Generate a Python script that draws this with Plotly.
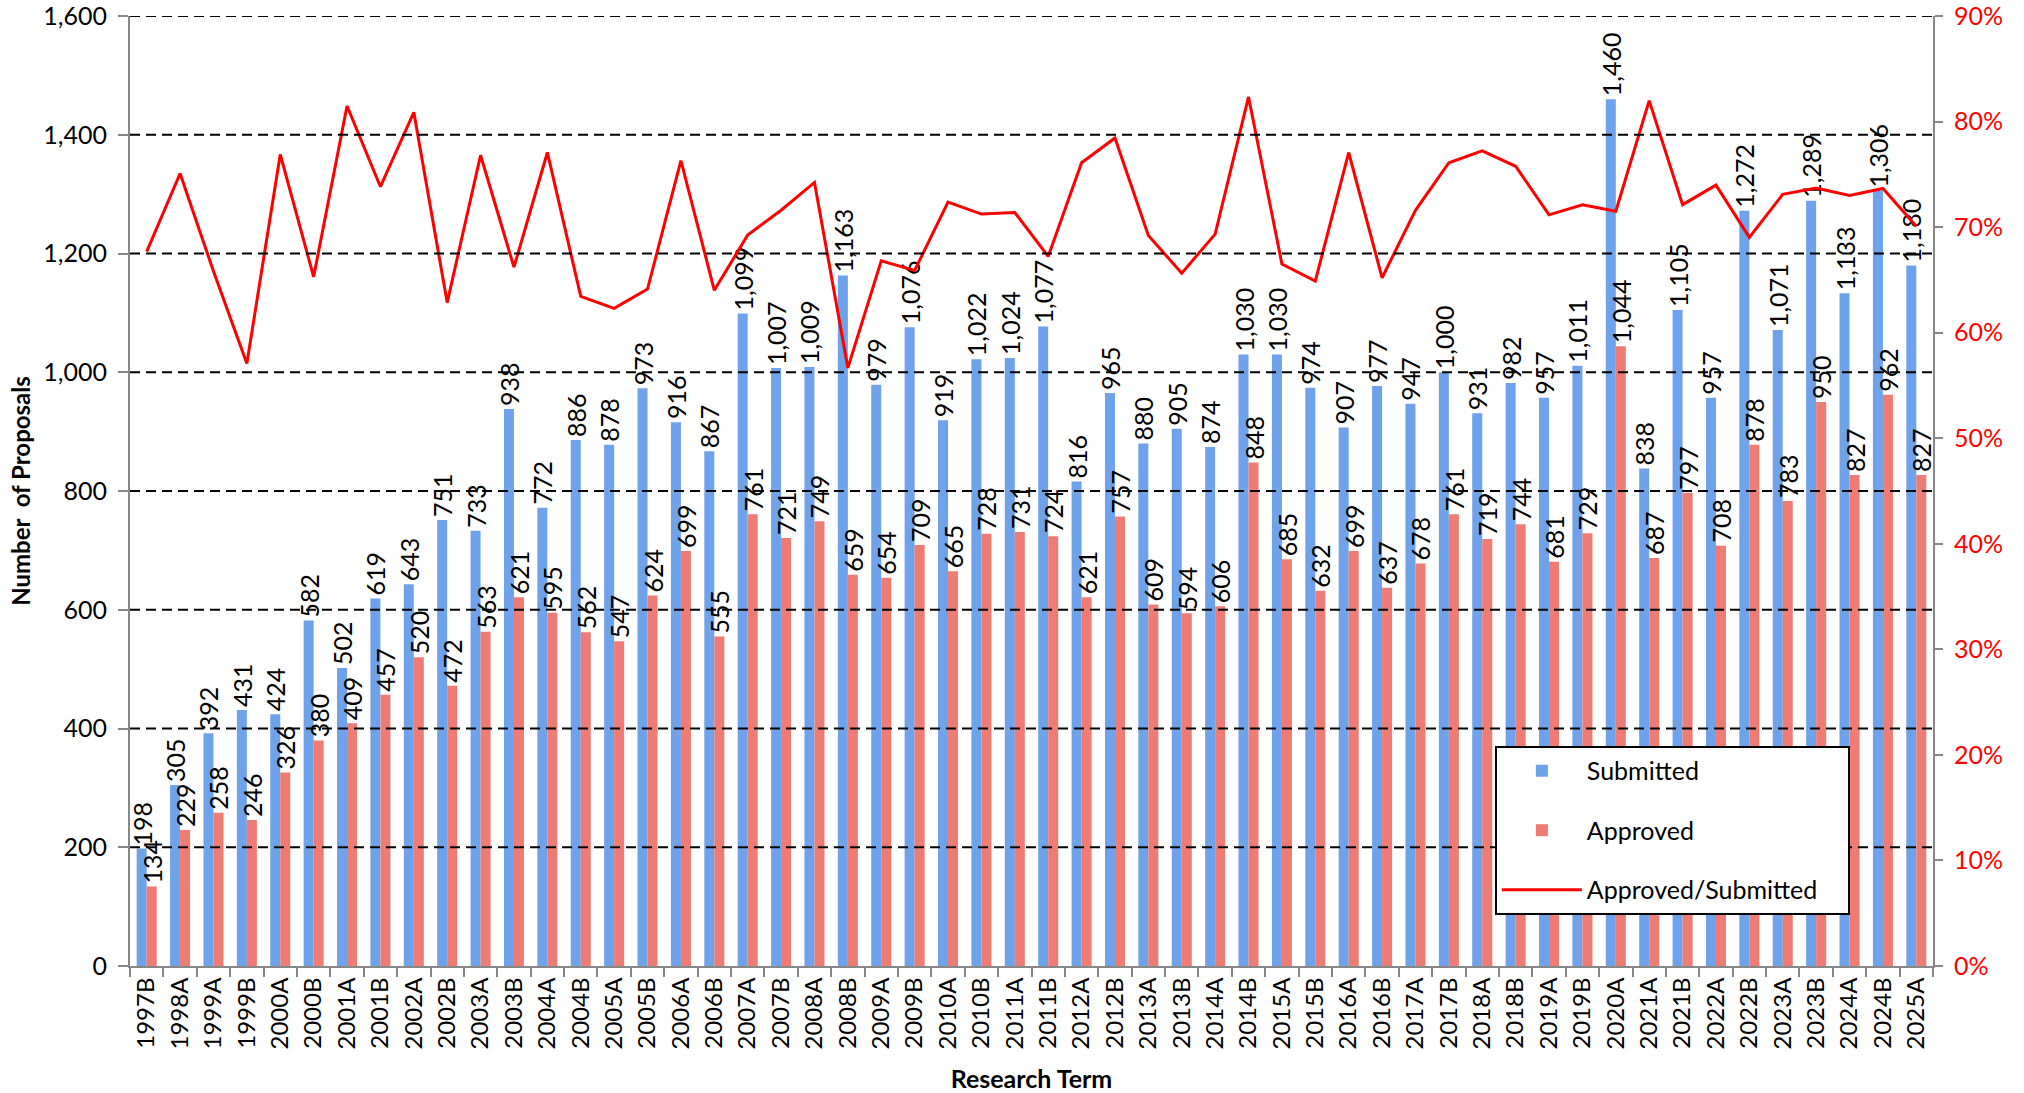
import plotly.graph_objects as go

terms = ["1997B", "1998A", "1999A", "1999B", "2000A", "2000B", "2001A", "2001B", "2002A", "2002B",
         "2003A", "2003B", "2004A", "2004B", "2005A", "2005B", "2006A", "2006B", "2007A", "2007B",
         "2008A", "2008B", "2009A", "2009B", "2010A", "2010B", "2011A", "2011B", "2012A", "2012B",
         "2013A", "2013B", "2014A", "2014B", "2015A", "2015B", "2016A", "2016B", "2017A", "2017B",
         "2018A", "2018B", "2019A", "2019B", "2020A", "2021A", "2021B", "2022A", "2022B", "2023A",
         "2023B", "2024A", "2024B", "2025A"]

submitted = [198, 305, 392, 431, 424, 582, 502, 619, 643, 751,
             733, 938, 772, 886, 878, 973, 916, 867, 1099, 1007,
             1009, 1163, 979, 1076, 919, 1022, 1024, 1077, 816, 965,
             880, 905, 874, 1030, 1030, 974, 907, 977, 947, 1000,
             931, 982, 957, 1011, 1460, 838, 1105, 957, 1272, 1071,
             1289, 1133, 1306, 1180]

approved = [134, 229, 258, 246, 326, 380, 409, 457, 520, 472,
            563, 621, 595, 562, 547, 624, 699, 555, 761, 721,
            749, 659, 654, 709, 665, 728, 731, 724, 621, 757,
            609, 594, 606, 848, 685, 632, 699, 637, 678, 761,
            719, 744, 681, 729, 1044, 687, 797, 708, 878, 783,
            950, 827, 962, 827]

ratio = [a / s for a, s in zip(approved, submitted)]

left_ticks = list(range(0, 1601, 200))
right_ticks = [i / 10 for i in range(0, 10)]

FONT = "Lato"
fs = 25

fig = go.Figure()
fig.add_trace(go.Bar(
    x=terms, y=submitted, name="Submitted", legendgroup="g1",
    marker=dict(color="#6EA3EC", line=dict(width=0)),
    text=[f"{v:,}" for v in submitted], textposition="outside", textangle=-90,
    constraintext="none", cliponaxis=False,
    textfont=dict(family=FONT, size=fs, color="black"),
))
fig.add_trace(go.Bar(
    x=terms, y=approved, name="Approved", legendgroup="g2",
    marker=dict(color="#EE7C75", line=dict(width=0)),
    text=[f"{v:,}" for v in approved], textposition="outside", textangle=-90,
    constraintext="none", cliponaxis=False,
    textfont=dict(family=FONT, size=fs, color="black"),
))
fig.add_trace(go.Scatter(
    x=terms, y=ratio, name="Approved/Submitted\u00a0\u00a0\u00a0\u00a0", legendgroup="g3", yaxis="y2",
    mode="lines", line=dict(color="#FF0000", width=3),
))

for v in left_ticks[1:]:
    fig.add_shape(type="line", xref="paper", x0=0, x1=1, yref="y", y0=v, y1=v,
                  line=dict(color="black", width=2, dash="10px,6px"), layer="above")

fig.update_layout(
    width=2024, height=1093,
    margin=dict(l=130, r=91, t=16, b=127, autoexpand=False),
    paper_bgcolor="white", plot_bgcolor="white",
    font=dict(family=FONT, size=fs, color="black"),
    barmode="group", bargap=0.4, bargroupgap=0,
    showlegend=True,
    legend=dict(
        x=0.757, y=0.2316, xanchor="left", yanchor="top",
        bgcolor="white", bordercolor="black", borderwidth=2,
        font=dict(family=FONT, size=25, color="black"),
        tracegroupgap=24, itemwidth=80, traceorder="grouped",
    ),
    xaxis=dict(
        type="category", tickangle=-90, tickson="boundaries",
        ticks="outside", ticklen=9, tickwidth=2, tickcolor="#878787",
        showline=True, linecolor="#878787", linewidth=2, showgrid=False,
        tickfont=dict(family=FONT, size=24, color="black"),
        title=dict(text="<b>Research Term</b>", font=dict(family=FONT, size=25), standoff=22),
    ),
    yaxis=dict(
        range=[0, 1600], tickvals=left_ticks, tickformat=",d",
        ticks="outside", ticklen=10, tickwidth=2, tickcolor="#878787",
        showline=True, linecolor="#878787", linewidth=2, showgrid=False,
        zeroline=False, ticklabelstandoff=6, ticklabeloverflow="allow",
        tickfont=dict(family=FONT, size=fs, color="black"),
        title=dict(text="<b>Number\u00a0 of Proposals</b>", font=dict(family=FONT, size=24), standoff=6),
    ),
    yaxis2=dict(
        overlaying="y", side="right", range=[0, 0.9], tickvals=right_ticks, tickformat=".0%",
        ticks="outside", ticklen=8, tickwidth=2, tickcolor="#878787",
        showline=True, linecolor="#878787", linewidth=2, showgrid=False, zeroline=False,
        ticklabelstandoff=6, ticklabeloverflow="allow",
        tickfont=dict(family=FONT, size=fs, color="#FF0000"),
    ),
)

fig.write_html("out.html", config={"displayModeBar": False},
               post_script="document.body.style.margin='0';document.body.style.overflow='hidden';")
